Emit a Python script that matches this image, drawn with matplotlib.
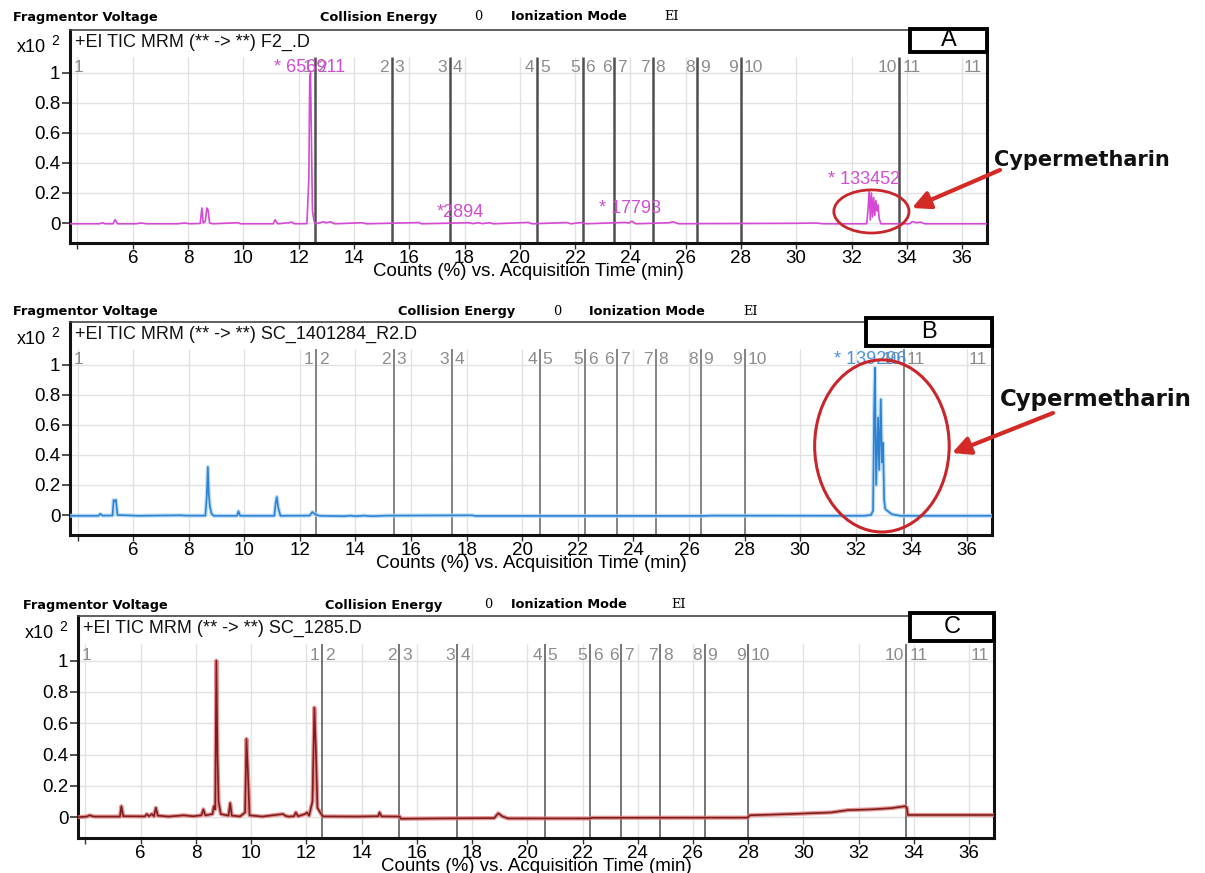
import matplotlib
matplotlib.use('Agg')
import matplotlib.pyplot as plt
from matplotlib.patches import Ellipse, Rectangle, FancyArrowPatch

W, H = 1205, 873
DPI = 100

# ---------------- data ----------------
X_TICKS = [4, 6, 8, 10, 12, 14, 16, 18, 20, 22, 24, 26, 28, 30, 32, 34, 36]
X_TICK_LABELS = ['', '6', '8', '10', '12', '14', '16', '18', '20', '22', '24',
                 '26', '28', '30', '32', '34', '36']
Y_TICKS = [0, 0.2, 0.4, 0.6, 0.8, 1.0]
Y_TICK_LABELS = ['0', '0.2', '0.4', '0.6', '0.8', '1']
X_LABEL = 'Counts (%) vs. Acquisition Time (min)'

SEGMENT_BOUNDS = [12.58, 15.37, 17.47, 20.63, 22.27, 23.41, 24.81, 26.42, 28.0, 33.73]
SEGMENT_NAMES = ['1', '2', '3', '4', '5', '6', '7', '8', '9', '10', '11']

TITLES = ['+EI TIC MRM (** -> **) F2_.D',
          '+EI TIC MRM (** -> **) SC_1401284_R2.D',
          '+EI TIC MRM (** -> **) SC_1285.D']
PANEL_LETTERS = ['A', 'B', 'C']

A_TIME = [3.73, 4.80, 4.90, 5.00, 5.28, 5.36, 5.45, 6.10, 6.30, 6.50,
          7.60, 7.90, 8.05, 8.44, 8.50, 8.55, 8.62, 8.68, 8.72, 8.78,
          8.90, 9.80, 9.90, 11.08, 11.15, 11.24, 11.65, 11.75, 11.85, 12.30,
          12.37, 12.40, 12.43, 12.46, 12.50, 12.56, 12.62, 12.90, 13.00, 13.15,
          13.30, 14.30, 14.45, 16.35, 16.45, 18.15, 18.30, 18.50, 18.65, 18.90,
          19.05, 20.30, 20.45, 21.70, 21.85, 22.20, 22.40, 23.80, 23.95, 24.05,
          24.20, 25.40, 25.55, 25.75, 26.50, 29.90, 30.30, 30.70, 31.00, 32.55,
          32.60, 32.64, 32.68, 32.72, 32.76, 32.80, 32.84, 32.88, 32.92, 32.96,
          33.00, 33.06, 34.10, 34.20, 34.35, 34.50, 34.65, 36.90]
A_COUNTS = [-0.005, -0.005, 0.002, -0.005, -0.005, 0.022, -0.005, -0.005, 0.0, -0.005,
            -0.005, 0.0, -0.005, -0.003, 0.10, 0.0, 0.01, 0.10, 0.09, 0.0,
            -0.005, 0.002, -0.005, -0.005, 0.022, -0.005, 0.002, 0.006, -0.005, -0.004,
            0.30, 0.95, 1.0, 0.60, 0.08, 0.01, -0.005, 0.008, 0.002, 0.008,
            -0.005, 0.002, -0.005, 0.003, -0.005, 0.002, -0.004, 0.002, -0.004, 0.002,
            -0.005, 0.004, -0.005, 0.003, -0.005, 0.003, -0.005, 0.004, 0.0, 0.012,
            -0.005, 0.002, 0.008, -0.005, -0.004, -0.002, -0.001, 0.0, -0.005, -0.005,
            0.10, 0.22, 0.02, 0.20, 0.04, 0.17, 0.05, 0.15, 0.08, 0.12,
            0.03, -0.005, -0.005, 0.01, 0.002, 0.006, -0.005, -0.005]

B_TIME = [3.73, 4.75, 4.82, 4.90, 5.26, 5.30, 5.34, 5.38, 5.44, 6.20,
          6.60, 7.70, 7.90, 8.60, 8.65, 8.69, 8.72, 8.76, 8.82, 8.90,
          9.74, 9.79, 9.85, 11.08, 11.13, 11.17, 11.22, 11.30, 12.35, 12.45,
          12.55, 12.70, 13.60, 13.80, 14.00, 14.30, 14.60, 15.10, 18.20, 18.30,
          26.50, 26.80, 32.30, 32.55, 32.62, 32.66, 32.69, 32.73, 32.80, 32.84,
          32.90, 32.94, 32.98, 33.02, 33.06, 33.12, 33.30, 33.60, 36.90]
B_COUNTS = [-0.005, -0.005, 0.008, -0.004, -0.003, 0.10, 0.09, 0.10, 0.0, -0.005,
            -0.004, -0.002, -0.004, -0.004, 0.12, 0.32, 0.15, 0.06, 0.01, -0.005,
            -0.005, 0.025, -0.005, -0.005, 0.08, 0.12, 0.05, -0.005, -0.004, 0.02,
            0.005, -0.005, -0.008, -0.004, -0.008, -0.004, -0.008, -0.004, -0.002, -0.006,
            -0.006, -0.004, -0.005, 0.0, 0.03, 0.70, 0.98, 0.20, 0.65, 0.30,
            0.77, 0.35, 0.48, 0.10, 0.04, 0.03, 0.005, -0.005, -0.005]

C_TIME = [3.73, 4.05, 4.15, 4.30, 5.25, 5.30, 5.37, 6.15, 6.22, 6.30,
          6.40, 6.48, 6.55, 6.62, 7.00, 7.30, 7.55, 7.90, 8.20, 8.27,
          8.34, 8.60, 8.65, 8.70, 8.74, 8.78, 8.82, 8.90, 9.18, 9.24,
          9.30, 9.60, 9.78, 9.83, 9.88, 9.94, 10.40, 11.15, 11.25, 11.35,
          11.55, 11.62, 11.70, 11.95, 12.02, 12.10, 12.22, 12.29, 12.34, 12.40,
          12.50, 12.60, 13.80, 14.60, 14.65, 14.72, 15.38, 15.42, 16.80, 18.80,
          18.95, 19.10, 19.30, 22.28, 22.32, 27.98, 28.05, 29.50, 31.00, 31.60,
          32.50, 33.20, 33.68, 33.74, 33.78, 36.90]
C_COUNTS = [0.0, 0.004, 0.012, 0.004, 0.004, 0.07, 0.006, 0.005, 0.02, 0.006,
            0.02, 0.006, 0.06, 0.01, 0.004, 0.008, 0.012, 0.006, 0.012, 0.05,
            0.012, 0.02, 0.07, 0.05, 1.0, 0.40, 0.10, 0.02, 0.01, 0.09,
            0.01, 0.005, 0.03, 0.50, 0.30, 0.012, 0.004, 0.02, 0.008, 0.004,
            0.006, 0.03, 0.006, 0.02, 0.03, 0.01, 0.10, 0.70, 0.45, 0.06,
            0.03, 0.005, 0.004, 0.006, 0.03, 0.005, 0.004, -0.01, -0.008, -0.006,
            0.025, 0.005, -0.008, -0.008, -0.004, -0.003, 0.012, 0.02, 0.03, 0.045,
            0.05, 0.058, 0.07, 0.062, 0.014, 0.014]

A_PEAK_LABELS = ['* 656911', '*2894', '* 17793', '* 133452']
A_PEAK_X = [11.1, 17.0, 22.85, 31.15]
A_PEAK_Y = [1.035, 0.067, 0.10, 0.293]
B_PEAK_LABELS = ['* 139296']
B_PEAK_X = [31.2]
B_PEAK_Y = [1.035]

# ---------------- style / layout ----------------
SANS = 'Liberation Sans'
XLIM = (3.73, 36.9)
YLIM = (-0.133, 1.285)
GRID_TOP = 1.105


def fx(x):
    return x / W


def fy(y):
    return 1 - y / H


panels = [
    dict(box=(70, 987, 30, 243), title=TITLES[0], letter=PANEL_LETTERS[0],
         time=A_TIME, counts=A_COUNTS, color='#d648d6', halo=None,
         div_color='#4f4f4f', div_lw=1.8,
         peaks=(A_PEAK_LABELS, A_PEAK_X, A_PEAK_Y), peak_color='#cf4fcf',
         letter_box=(910, 987, 29, 52), header_y=17,
         header_x=(13, 320, 474, 511, 664)),
    dict(box=(70, 992, 322, 535), title=TITLES[1], letter=PANEL_LETTERS[1],
         time=B_TIME, counts=B_COUNTS, color='#2f82d2', halo='#aed6f5',
         div_color='#7a7a7a', div_lw=1.3,
         peaks=(B_PEAK_LABELS, B_PEAK_X, B_PEAK_Y), peak_color='#4a93dc',
         letter_box=(866, 992, 318, 346), header_y=311,
         header_x=(13, 398, 553, 589, 743)),
    dict(box=(78, 994, 616, 838), title=TITLES[2], letter=PANEL_LETTERS[2],
         time=C_TIME, counts=C_COUNTS, color='#7e1d1d', halo='#e07a7a',
         div_color='#6a6a6a', div_lw=1.3,
         peaks=None, peak_color=None,
         letter_box=(910, 994, 613, 641), header_y=605,
         header_x=(23, 325, 484, 511, 671)),
]

fig = plt.figure(figsize=(W / DPI, H / DPI), dpi=DPI)
fig.patch.set_facecolor('white')

for p in panels:
    l, r, t, b = p['box']
    ax = fig.add_axes([fx(l), fy(b), (r - l) / W, (b - t) / H])
    ax.set_xlim(*XLIM)
    ax.set_ylim(*YLIM)

    # grid
    for xv in X_TICKS:
        ax.vlines(xv, YLIM[0], GRID_TOP, color='#e2e2e2', lw=1.0, zorder=0)
    for yv in Y_TICKS:
        ax.axhline(yv, color='#e2e2e2', lw=1.0, zorder=0)

    # segment dividers
    for sb in SEGMENT_BOUNDS:
        ax.vlines(sb, YLIM[0], GRID_TOP, color=p['div_color'], lw=p['div_lw'], zorder=1)

    # segment labels
    seg_kw = dict(fontsize=12.5, color='#8c8c8c', va='center', family=SANS, zorder=2)
    ax.text(XLIM[0] + 0.12, 1.035, SEGMENT_NAMES[0], ha='left', **seg_kw)
    for i, sb in enumerate(SEGMENT_BOUNDS):
        ax.text(sb - 0.1, 1.035, SEGMENT_NAMES[i], ha='right', **seg_kw)
        ax.text(sb + 0.1, 1.035, SEGMENT_NAMES[i + 1], ha='left', **seg_kw)
    ax.text(XLIM[1] - 0.2, 1.035, SEGMENT_NAMES[-1], ha='right', **seg_kw)

    # trace
    if p['halo']:
        ax.plot(p['time'], p['counts'], color=p['halo'], lw=3.0, alpha=0.8, zorder=3)
    ax.plot(p['time'], p['counts'], color=p['color'], lw=1.2, zorder=4)

    # peak labels
    if p['peaks']:
        for lab, xv, yv in zip(*p['peaks']):
            ax.text(xv, yv, lab, color=p['peak_color'], fontsize=13, family=SANS,
                    va='center', ha='left', zorder=5)

    # title row
    ax.text(XLIM[0] + 0.18, 1.205, p['title'], fontsize=13, family=SANS,
            va='center', ha='left', color='#111111')

    # axes style
    ax.set_xticks(X_TICKS)
    ax.set_xticklabels(X_TICK_LABELS, family=SANS)
    ax.set_yticks(Y_TICKS)
    ax.set_yticklabels(Y_TICK_LABELS, family=SANS)
    ax.tick_params(axis='both', labelsize=13.5, direction='out', color='#333333')
    ax.tick_params(axis='y', length=6, width=1.2, pad=1)
    ax.tick_params(axis='x', length=4, width=1.0, pad=1)
    ax.set_xlabel(X_LABEL, fontsize=13.5, family=SANS, labelpad=-3)
    for s in ('left', 'bottom', 'right'):
        ax.spines[s].set_linewidth(2.2)
        ax.spines[s].set_color('#111111')
    ax.spines['top'].set_linewidth(1.2)
    ax.spines['top'].set_color('#444444')

    # x10^2 marker
    ty = t + 14
    fig.text(fx(l - 53), fy(ty + 3), 'x10', fontsize=13, family=SANS, va='center')
    fig.text(fx(l - 19), fy(ty - 3), '2', fontsize=10, family=SANS, va='center')

    # header row
    hx = p['header_x']
    hy = fy(p['header_y'])
    fig.text(fx(hx[0]), hy, 'Fragmentor Voltage', fontsize=9.3, weight='bold',
             family='DejaVu Sans', va='center')
    fig.text(fx(hx[1]), hy, 'Collision Energy', fontsize=9.3, weight='bold',
             family='DejaVu Sans', va='center')
    fig.text(fx(hx[2]), hy, '0', fontsize=9.3, family='DejaVu Serif', va='center')
    fig.text(fx(hx[3]), hy, 'Ionization Mode', fontsize=9.3, weight='bold',
             family='DejaVu Sans', va='center')
    fig.text(fx(hx[4]), hy, 'EI', fontsize=9.3, family='DejaVu Serif', va='center')

    # letter box
    bl, br, bt, bb = p['letter_box']
    fig.add_artist(Rectangle((fx(bl), fy(bb)), (br - bl) / W, (bb - bt) / H,
                             transform=fig.transFigure, facecolor='white',
                             edgecolor='black', lw=2.8, zorder=10))
    fig.text(fx((bl + br) / 2), fy((bt + bb) / 2), p['letter'], fontsize=17,
             family=SANS, ha='center', va='center', zorder=11)

    p['ax'] = ax

# ---------------- annotations ----------------
RED = '#c8262b'
axA = panels[0]['ax']
axB = panels[1]['ax']

axA.add_patch(Ellipse((32.72, 0.077), 2.72, 0.287, fill=False, edgecolor=RED,
                      lw=2.0, zorder=6, clip_on=False))
axB.add_patch(Ellipse((32.94, 0.46), 4.84, 1.146, fill=False, edgecolor=RED,
                      lw=2.2, zorder=6, clip_on=False))

arrow_kw = dict(arrowstyle='-|>,head_length=0.9,head_width=0.45', color='#d42a26',
                lw=3.0, shrinkA=0, shrinkB=0)
fig.add_artist(FancyArrowPatch(
    (fx(1000), fy(170)), (fx(912), fy(208)), transform=fig.transFigure,
    mutation_scale=12, **arrow_kw))
fig.add_artist(FancyArrowPatch(
    (fx(1053), fy(413)), (fx(952), fy(453)), transform=fig.transFigure,
    mutation_scale=12, **arrow_kw))

fig.text(fx(994), fy(160), 'Cypermetharin', fontsize=15, weight='bold',
         family='DejaVu Sans', va='center', ha='left', color='#111111')
fig.text(fx(1000), fy(400), 'Cypermetharin', fontsize=16.5, weight='bold',
         family='DejaVu Sans', va='center', ha='left', color='#111111')

fig.savefig('out.png', dpi=DPI, facecolor='white')
